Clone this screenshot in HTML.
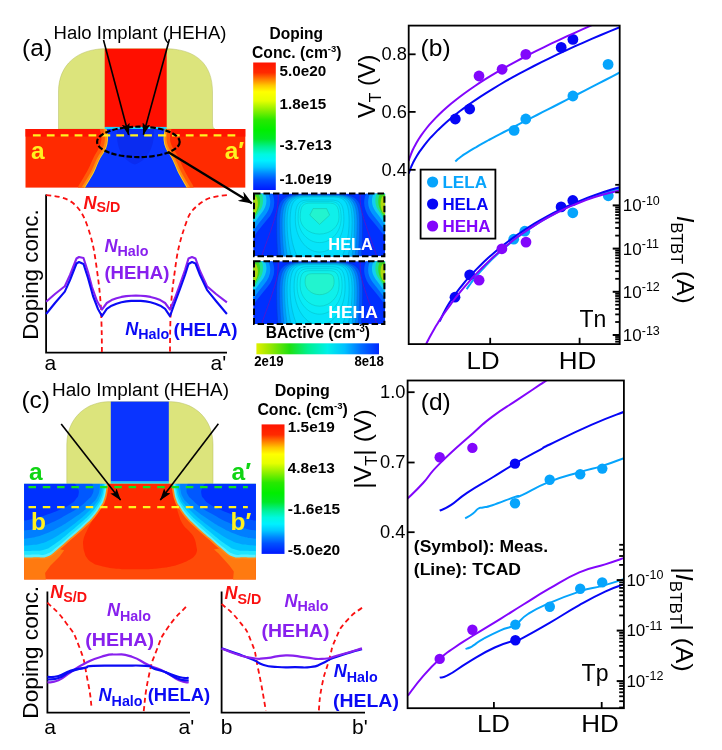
<!DOCTYPE html>
<html><head><meta charset="utf-8"><title>Figure</title>
<style>
html,body{margin:0;padding:0;background:#fff;}
svg{display:block;}
text{font-family:"Liberation Sans",sans-serif;}
.b{font-weight:bold;}
.bi{font-weight:bold;font-style:italic;}
</style></head><body>
<svg width="722" height="750" viewBox="0 0 722 750">
<defs>
<linearGradient id="jet" x1="0" y1="0" x2="0" y2="1">
<stop offset="0" stop-color="#ff1400"/>
<stop offset="0.08" stop-color="#ff2a00"/>
<stop offset="0.13" stop-color="#ff7a00"/>
<stop offset="0.18" stop-color="#ffc800"/>
<stop offset="0.23" stop-color="#ffff00"/>
<stop offset="0.30" stop-color="#e6ff00"/>
<stop offset="0.37" stop-color="#90f000"/>
<stop offset="0.45" stop-color="#28e800"/>
<stop offset="0.53" stop-color="#00ee00"/>
<stop offset="0.60" stop-color="#00e828"/>
<stop offset="0.66" stop-color="#00f090"/>
<stop offset="0.72" stop-color="#00f8e0"/>
<stop offset="0.77" stop-color="#00f0ff"/>
<stop offset="0.82" stop-color="#00c8ff"/>
<stop offset="0.87" stop-color="#0088ff"/>
<stop offset="0.92" stop-color="#0050ff"/>
<stop offset="1" stop-color="#0018ff"/>
</linearGradient>
<marker id="ah" viewBox="0 0 12 8" refX="11.6" refY="4" markerWidth="12" markerHeight="8" markerUnits="userSpaceOnUse" orient="auto"><path d="M0,0 L12,4 L0,8 L2.5,4 z" fill="#000"/></marker>
<marker id="ahb" viewBox="0 0 14 11" refX="13.4" refY="5.5" markerWidth="14" markerHeight="11" markerUnits="userSpaceOnUse" orient="auto"><path d="M0,0 L14,5.5 L0,11 L4.5,5.5 z" fill="#000"/></marker>
<linearGradient id="bact" x1="0" y1="0" x2="1" y2="0">
<stop offset="0" stop-color="#e0f000"/>
<stop offset="0.1" stop-color="#a0e800"/>
<stop offset="0.27" stop-color="#20e010"/>
<stop offset="0.42" stop-color="#00f090"/>
<stop offset="0.58" stop-color="#00f0e8"/>
<stop offset="0.72" stop-color="#00c0ff"/>
<stop offset="0.85" stop-color="#0070ff"/>
<stop offset="1" stop-color="#0028ff"/>
</linearGradient>
</defs>
<rect width="722" height="750" fill="#fff"/>

<!-- ===== PANEL A ===== -->
<g id="pa">
<!-- spacer -->
<path d="M58.5,129 L58.5,92 C58.5,64 78,49.5 104,48.7 L167,48.7 C196,49.5 212.5,64 212.5,92 L212.5,122 C212.5,127 213.5,129 215,129 Z" fill="#dce47c" stroke="#b4bc60" stroke-width="0.5"/>
<!-- gate -->
<rect x="104.7" y="48.7" width="62" height="78.5" fill="#ff0f00"/>
<!-- substrate -->
<rect x="25.5" y="129" width="219.8" height="58.6" fill="#ff2a00"/>
<rect x="25.5" y="129" width="219.8" height="7.6" fill="#ff1400"/>
<rect x="104.8" y="126.9" width="61.7" height="2.2" fill="#19d2ff"/>
<!-- channel -->
<clipPath id="ca"><rect x="25.5" y="129" width="219.8" height="58.6"/></clipPath>
<g clip-path="url(#ca)">
<path d="M106.2,128 C107.6,133 108.2,137 107.9,140 C107.6,146 105.5,150.5 102.7,154.6 C100,158.5 98,163 95.8,168.5 C93.5,174 91,178 84.5,188.5 L187.2,188.5 C181,178 178,173 176.3,168.5 C174,163 172,158.5 169.4,154.6 C166.5,150.5 164,146 163.6,140 C163.4,137 164,133 165,128 Z" fill="none" stroke="#ff5a08" stroke-width="13" stroke-linejoin="round"/>
<path d="M106.2,128 C107.6,133 108.2,137 107.9,140 C107.6,146 105.5,150.5 102.7,154.6 C100,158.5 98,163 95.8,168.5 C93.5,174 91,178 84.5,188.5 L187.2,188.5 C181,178 178,173 176.3,168.5 C174,163 172,158.5 169.4,154.6 C166.5,150.5 164,146 163.6,140 C163.4,137 164,133 165,128 Z" fill="none" stroke="#ff8c10" stroke-width="6" stroke-linejoin="round"/>
<path d="M106.2,128 C107.6,133 108.2,137 107.9,140 C107.6,146 105.5,150.5 102.7,154.6 C100,158.5 98,163 95.8,168.5 C93.5,174 91,178 84.5,188.5 L187.2,188.5 C181,178 178,173 176.3,168.5 C174,163 172,158.5 169.4,154.6 C166.5,150.5 164,146 163.6,140 C163.4,137 164,133 165,128 Z" fill="none" stroke="#ffd820" stroke-width="1.6" stroke-linejoin="round"/>
<path d="M106.2,128 C107.6,133 108.2,137 107.9,140 C107.6,146 105.5,150.5 102.7,154.6 C100,158.5 98,163 95.8,168.5 C93.5,174 91,178 84.5,188.5 L187.2,188.5 C181,178 178,173 176.3,168.5 C174,163 172,158.5 169.4,154.6 C166.5,150.5 164,146 163.6,140 C163.4,137 164,133 165,128 Z" fill="#0a35ff"/>
<path d="M117,129 L154,129 C154.5,140 152,150 146,157 C142,161.5 138,163.5 135,164.5 C131,163.5 127,161 123.5,156.5 C118,150 116.5,140 117,129 Z" fill="#0a2cf0"/>
</g>
<line x1="32.9" y1="135.4" x2="236" y2="135.4" stroke="#fff21f" stroke-width="2.2" stroke-dasharray="7.8,6.1"/>
<ellipse cx="138.4" cy="141.9" rx="41.3" ry="15.2" fill="none" stroke="#000" stroke-width="2.2" stroke-dasharray="5.4,2.2"/>
<text x="31" y="158.8" class="b" font-size="24.5" fill="#fff21f">a</text>
<text x="224.7" y="158.8" class="b" font-size="24.5" fill="#fff21f">a′</text>
<line x1="103.5" y1="40" x2="128.7" y2="135" stroke="#000" stroke-width="1.6" marker-end="url(#ah)"/>
<line x1="169.5" y1="39" x2="143.4" y2="134.7" stroke="#000" stroke-width="1.6" marker-end="url(#ah)"/>
<line x1="168.5" y1="152.2" x2="251.9" y2="203.2" stroke="#000" stroke-width="2.3" marker-end="url(#ahb)"/>
<text x="53.5" y="39.4" font-size="17.6" textLength="173" lengthAdjust="spacingAndGlyphs">Halo Implant (HEHA)</text>
<text x="22.1" y="56.3" font-size="24.5">(a)</text>
<!-- colorbar -->
<rect x="253.2" y="62.5" width="22.6" height="127.5" fill="url(#jet)"/>
<text x="269.5" y="39.4" class="b" font-size="15.8" textLength="53.5" lengthAdjust="spacingAndGlyphs">Doping</text>
<text x="252" y="57.9" class="b" font-size="15.8" textLength="89.5" lengthAdjust="spacingAndGlyphs">Conc. (cm<tspan font-size="9.5" dy="-6">-3</tspan><tspan dy="6">)</tspan></text>
<text x="279.6" y="75.6" class="b" font-size="15" textLength="46.6" lengthAdjust="spacingAndGlyphs">5.0e20</text>
<text x="279.6" y="109.2" class="b" font-size="15" textLength="46.6" lengthAdjust="spacingAndGlyphs">1.8e15</text>
<text x="279.6" y="149.5" class="b" font-size="15" textLength="52.3" lengthAdjust="spacingAndGlyphs">-3.7e13</text>
<text x="279.6" y="184.3" class="b" font-size="15" textLength="52.3" lengthAdjust="spacingAndGlyphs">-1.0e19</text>
</g>

<!-- ===== PANEL A PLOT ===== -->
<g id="pap">
<path d="M46.1,194.4 L46.1,352.7 L227,352.7" fill="none" stroke="#000" stroke-width="1.8"/>
<text transform="translate(37.8,339.8) rotate(-90)" font-size="21.7" textLength="130.5" lengthAdjust="spacingAndGlyphs">Doping conc.</text>
<text x="44.6" y="370.3" font-size="21">a</text>
<text x="210.5" y="370.3" font-size="21">a'</text>
<path d="M46.1,195.1 C58,196 66,198 72,202.3 C79,208 83,214 86.4,223.2 C91,236 93.5,246 95.4,259.2 C98,277 99.8,290 100.8,306 C101.5,320 101.9,335 101.9,352" fill="none" stroke="#fa1010" stroke-width="1.8" stroke-dasharray="5,3.5"/>
<path d="M226.9,195.1 C215,196 207,198 201.7,202.3 C194,208 190,212 187.3,219.6 C182,234 178.5,246 176.5,259.2 C174,277 172,290 171,306 C170.3,320 170,335 170,352" fill="none" stroke="#fa1010" stroke-width="1.8" stroke-dasharray="5,3.5"/>
<polyline points="46.1,301.7 55.0,294.0 64.8,286.2 70.0,275.0 76.5,258.5 79.0,257.0 83.5,258.0 88.0,272.0 92.0,287.0 97.0,301.0 101.9,309.6 106.8,303.0 111.6,300.1 116.5,298.2 121.4,296.9 126.2,296.1 131.1,295.7 135.9,295.6 140.8,295.7 145.7,296.1 150.5,296.9 155.4,298.2 160.3,300.1 165.1,303.0 170.0,309.6 175.0,298.0 180.0,284.4 185.0,270.0 188.5,258.5 192.0,257.0 195.5,258.5 200.0,271.0 207.0,286.2 216.0,294.0 226.9,302.4" fill="none" stroke="#8820ee" stroke-width="2.1" stroke-linejoin="round"/>
<polyline points="46.1,314.0 55.0,303.0 64.8,291.6 70.0,280.0 76.5,263.5 79.0,262.0 83.5,264.0 88.0,278.0 93.0,296.0 98.0,309.0 101.9,316.1 106.8,308.9 111.6,305.7 116.5,303.7 121.4,302.3 126.2,301.4 131.1,300.9 135.9,300.8 140.8,300.9 145.7,301.4 150.5,302.3 155.4,303.7 160.3,305.7 165.1,308.9 170.0,316.1 174.0,305.0 180.0,289.0 185.0,275.0 188.5,264.0 192.0,262.0 195.5,263.5 200.0,275.0 207.0,289.8 216.0,301.0 226.9,314.0" fill="none" stroke="#0a0af5" stroke-width="2.1" stroke-linejoin="round"/>
<text x="83.5" y="208.8" class="bi" font-size="18" fill="#fa1010">N<tspan class="b" font-style="normal" font-size="14.3" dy="3.3">S/D</tspan></text>
<text x="104.4" y="252" class="bi" font-size="18" fill="#8820ee">N<tspan class="b" font-style="normal" font-size="14.3" dy="4.3">Halo</tspan></text>
<text x="104.4" y="279" class="b" font-size="18" fill="#8820ee" textLength="65" lengthAdjust="spacingAndGlyphs">(HEHA)</text>
<text x="125.3" y="334.8" class="bi" font-size="18" fill="#0a0af5">N<tspan class="b" font-style="normal" font-size="14.3" dy="4.3">Halo</tspan></text>
<text x="173.6" y="335.5" class="b" font-size="18" fill="#0a0af5" textLength="64" lengthAdjust="spacingAndGlyphs">(HELA)</text>
</g>

<!--INSETS_START-->
<g id="insets">
<clipPath id="ic1"><rect x="253.2" y="193.6" width="132.0" height="62.70000000000002"/></clipPath>
<g clip-path="url(#ic1)">
<rect x="253.2" y="193.6" width="132.0" height="62.70000000000002" fill="#0030ff"/>
<path d="M276.6,223.6 C276.6,198.1 284.3,194.6 300.2,194.6 L339.0,194.6 C354.9,194.6 362.6,198.1 362.6,223.6 C362.6,300.6 343.2,363.6 319.6,363.6 C296.0,363.6 276.6,300.6 276.6,223.6Z" fill="#0053ff" stroke="#0041c7" stroke-width="0.5"/>
<path d="M279.6,223.6 C279.6,198.5 286.8,195.1 301.6,195.1 L337.6,195.1 C352.4,195.1 359.6,198.5 359.6,223.6 C359.6,289.6 341.6,343.6 319.6,343.6 C297.6,343.6 279.6,289.6 279.6,223.6Z" fill="#0079ff" stroke="#005ec7" stroke-width="0.5"/>
<path d="M282.1,223.6 C282.1,199.0 288.9,195.6 302.7,195.6 L336.5,195.6 C350.4,195.6 357.1,199.0 357.1,223.6 C357.1,278.6 340.2,323.6 319.6,323.6 C299.0,323.6 282.1,278.6 282.1,223.6Z" fill="#009dff" stroke="#007ac7" stroke-width="0.5"/>
<path d="M284.6,223.6 C284.6,199.4 290.9,196.1 303.9,196.1 L335.4,196.1 C348.3,196.1 354.6,199.4 354.6,223.6 C354.6,269.8 338.9,307.6 319.6,307.6 C300.4,307.6 284.6,269.8 284.6,223.6Z" fill="#00beff" stroke="#0094c7" stroke-width="0.5"/>
<path d="M287.1,222.6 C287.1,199.7 293.0,196.6 305.0,196.6 L334.2,196.6 C346.2,196.6 352.1,199.7 352.1,222.6 C352.1,260.6 337.5,291.6 319.6,291.6 C301.7,291.6 287.1,260.6 287.1,222.6Z" fill="#01d1ff" stroke="#01a3c7" stroke-width="0.5"/>
<path d="M290.1,221.6 C290.1,200.0 295.4,197.1 306.3,197.1 L332.9,197.1 C343.8,197.1 349.1,200.0 349.1,221.6 C349.1,251.3 335.8,275.6 319.6,275.6 C303.4,275.6 290.1,251.3 290.1,221.6Z" fill="#03defd" stroke="#02adc5" stroke-width="0.5"/>
<path d="M295.3,219.6 C295.3,202.4 299.7,200.1 308.7,200.1 L330.5,200.1 C339.5,200.1 343.9,202.4 343.9,219.6 C343.9,237.5 333.0,252.1 319.6,252.1 C306.2,252.1 295.3,237.5 295.3,219.6Z" fill="#06e5fa" stroke="#04b2c3" stroke-width="0.5"/>
<path d="M298.1,218.6 C298.1,203.6 302.0,201.6 309.9,201.6 L329.3,201.6 C337.2,201.6 341.1,203.6 341.1,218.6 C341.1,231.8 331.4,242.6 319.6,242.6 C307.8,242.6 298.1,231.8 298.1,218.6Z" fill="#08ecf6" stroke="#06b8c0" stroke-width="0.5"/>
<path d="M300.2,217.6 C300.2,204.8 303.7,203.1 310.9,203.1 L328.3,203.1 C335.5,203.1 339.0,204.8 339.0,217.6 C339.0,226.7 330.3,234.1 319.6,234.1 C308.9,234.1 300.2,226.7 300.2,217.6Z" fill="#0ff0ea" stroke="#0cbbb7" stroke-width="0.5"/>
<path d="M309.8,215.1 L313.1,208.6 L326.6,208.6 L329.6,215.1 L319.6,224.4Z" fill="#22f4cf" stroke="#18b8a0" stroke-width="0.5" stroke-linejoin="round"/>
<path d="M253.2,193.6 L272.2,193.6 C276.2,201.6 274.2,211.6 267.2,219.6 C262.2,225.6 257.2,231.6 253.2,237.6Z" fill="#0060ff"/>
<path d="M253.2,193.6 L268.2,193.6 C272.2,201.6 270.2,209.6 264.2,216.6 C260.2,221.6 256.2,226.6 253.2,231.6Z" fill="#0098ff"/>
<path d="M253.2,193.6 L264.7,193.6 C268.2,200.6 266.2,207.6 261.2,213.6 C258.2,217.6 255.2,221.6 253.2,225.6Z" fill="#10d0f0"/>
<path d="M253.2,193.6 L261.7,193.6 C264.2,199.6 263.2,206.6 259.2,211.6 C256.7,215.6 254.7,218.6 253.2,220.6Z" fill="#20e090"/>
<path d="M253.2,194.6 L258.7,194.6 C261.2,199.6 260.2,206.6 257.2,211.6 C255.7,214.6 254.2,216.6 253.2,217.6Z" fill="#40d820"/>
<path d="M253.2,196.6 L256.2,196.6 C258.7,201.6 258.2,207.6 255.7,212.6 L253.2,214.6Z" fill="#b0d810"/>
<path d="M278.2,193.6 C278.7,205.6 276.2,213.6 273.7,221.6 C269.2,235.6 265.2,245.6 261.7,256.3" fill="none" stroke="#6a10c0" stroke-width="0.7"/>
<path d="M385.2,193.6 L366.2,193.6 C362.2,201.6 364.2,211.6 371.2,219.6 C376.2,225.6 381.2,231.6 385.2,237.6Z" fill="#0060ff"/>
<path d="M385.2,193.6 L370.2,193.6 C366.2,201.6 368.2,209.6 374.2,216.6 C378.2,221.6 382.2,226.6 385.2,231.6Z" fill="#0098ff"/>
<path d="M385.2,193.6 L373.7,193.6 C370.2,200.6 372.2,207.6 377.2,213.6 C380.2,217.6 383.2,221.6 385.2,225.6Z" fill="#10d0f0"/>
<path d="M385.2,193.6 L376.7,193.6 C374.2,199.6 375.2,206.6 379.2,211.6 C381.7,215.6 383.7,218.6 385.2,220.6Z" fill="#20e090"/>
<path d="M385.2,194.6 L379.7,194.6 C377.2,199.6 378.2,206.6 381.2,211.6 C382.7,214.6 384.2,216.6 385.2,217.6Z" fill="#40d820"/>
<path d="M385.2,196.6 L382.2,196.6 C379.7,201.6 380.2,207.6 382.7,212.6 L385.2,214.6Z" fill="#b0d810"/>
<path d="M360.2,193.6 C359.7,205.6 362.2,213.6 364.7,221.6 C369.2,235.6 373.2,245.6 376.7,256.3" fill="none" stroke="#6a10c0" stroke-width="0.7"/>
</g>
<rect x="254.0" y="193.6" width="130.4" height="62.70000000000002" fill="none" stroke="#000" stroke-width="2" stroke-dasharray="6.5,3"/>
<text x="328.3" y="250.1" class="b" font-size="16.5" fill="#fff" textLength="44.6" lengthAdjust="spacingAndGlyphs">HELA</text>
<clipPath id="ic2"><rect x="253.2" y="261.2" width="132.0" height="62.80000000000001"/></clipPath>
<g clip-path="url(#ic2)">
<rect x="253.2" y="261.2" width="132.0" height="62.80000000000001" fill="#0030ff"/>
<path d="M276.6,291.2 C276.6,265.7 284.3,262.2 300.2,262.2 L339.0,262.2 C354.9,262.2 362.6,265.7 362.6,291.2 C362.6,368.2 343.2,431.2 319.6,431.2 C296.0,431.2 276.6,368.2 276.6,291.2Z" fill="#0053ff" stroke="#0041c7" stroke-width="0.5"/>
<path d="M279.6,291.2 C279.6,266.1 286.8,262.7 301.6,262.7 L337.6,262.7 C352.4,262.7 359.6,266.1 359.6,291.2 C359.6,357.2 341.6,411.2 319.6,411.2 C297.6,411.2 279.6,357.2 279.6,291.2Z" fill="#0079ff" stroke="#005ec7" stroke-width="0.5"/>
<path d="M282.1,291.2 C282.1,266.6 288.9,263.2 302.7,263.2 L336.5,263.2 C350.4,263.2 357.1,266.6 357.1,291.2 C357.1,347.3 340.2,393.2 319.6,393.2 C299.0,393.2 282.1,347.3 282.1,291.2Z" fill="#009dff" stroke="#007ac7" stroke-width="0.5"/>
<path d="M284.6,291.2 C284.6,267.0 290.9,263.7 303.9,263.7 L335.4,263.7 C348.3,263.7 354.6,267.0 354.6,291.2 C354.6,338.5 338.9,377.2 319.6,377.2 C300.4,377.2 284.6,338.5 284.6,291.2Z" fill="#00beff" stroke="#0094c7" stroke-width="0.5"/>
<path d="M287.1,290.2 C287.1,267.3 293.0,264.2 305.0,264.2 L334.2,264.2 C346.2,264.2 352.1,267.3 352.1,290.2 C352.1,329.2 337.5,361.2 319.6,361.2 C301.7,361.2 287.1,329.2 287.1,290.2Z" fill="#01d1ff" stroke="#01a3c7" stroke-width="0.5"/>
<path d="M290.1,289.2 C290.1,267.6 295.4,264.7 306.3,264.7 L332.9,264.7 C343.8,264.7 349.1,267.6 349.1,289.2 C349.1,320.0 335.8,345.2 319.6,345.2 C303.4,345.2 290.1,320.0 290.1,289.2Z" fill="#03defd" stroke="#02adc5" stroke-width="0.5"/>
<path d="M294.1,287.2 C294.1,269.2 298.7,266.7 308.1,266.7 L331.1,266.7 C340.5,266.7 345.1,269.2 345.1,287.2 C345.1,308.1 333.6,325.2 319.6,325.2 C305.6,325.2 294.1,308.1 294.1,287.2Z" fill="#06e5fa" stroke="#04b2c3" stroke-width="0.5"/>
<path d="M297.1,286.2 C297.1,270.8 301.2,268.7 309.5,268.7 L329.7,268.7 C338.1,268.7 342.1,270.8 342.1,286.2 C342.1,301.6 332.0,314.2 319.6,314.2 C307.2,314.2 297.1,301.6 297.1,286.2Z" fill="#08ecf6" stroke="#06b8c0" stroke-width="0.5"/>
<path d="M300.1,285.2 C300.1,272.4 303.6,270.7 310.8,270.7 L328.4,270.7 C335.6,270.7 339.1,272.4 339.1,285.2 C339.1,296.8 330.3,306.2 319.6,306.2 C308.9,306.2 300.1,296.8 300.1,285.2Z" fill="#0ff0ea" stroke="#0cbbb7" stroke-width="0.5"/>
<path d="M305.1,282.2 C305.1,274.7 307.7,273.7 313.1,273.7 L326.1,273.7 C331.5,273.7 334.1,274.7 334.1,282.2 C334.1,289.1 327.6,294.7 319.6,294.7 C311.6,294.7 305.1,289.1 305.1,282.2Z" fill="#22f4cf" stroke="#1bbea1" stroke-width="0.5"/>
<path d="M253.2,261.2 L272.2,261.2 C276.2,269.2 274.2,279.2 267.2,287.2 C262.2,293.2 257.2,299.2 253.2,305.2Z" fill="#0060ff"/>
<path d="M253.2,261.2 L268.2,261.2 C272.2,269.2 270.2,277.2 264.2,284.2 C260.2,289.2 256.2,294.2 253.2,299.2Z" fill="#0098ff"/>
<path d="M253.2,261.2 L264.7,261.2 C268.2,268.2 266.2,275.2 261.2,281.2 C258.2,285.2 255.2,289.2 253.2,293.2Z" fill="#10d0f0"/>
<path d="M253.2,261.2 L261.7,261.2 C264.2,267.2 263.2,274.2 259.2,279.2 C256.7,283.2 254.7,286.2 253.2,288.2Z" fill="#20e090"/>
<path d="M253.2,262.2 L258.7,262.2 C261.2,267.2 260.2,274.2 257.2,279.2 C255.7,282.2 254.2,284.2 253.2,285.2Z" fill="#40d820"/>
<path d="M253.2,264.2 L256.2,264.2 C258.7,269.2 258.2,275.2 255.7,280.2 L253.2,282.2Z" fill="#b0d810"/>
<path d="M278.2,261.2 C278.7,273.2 276.2,281.2 273.7,289.2 C269.2,303.2 265.2,313.2 261.7,324" fill="none" stroke="#6a10c0" stroke-width="0.7"/>
<path d="M385.2,261.2 L366.2,261.2 C362.2,269.2 364.2,279.2 371.2,287.2 C376.2,293.2 381.2,299.2 385.2,305.2Z" fill="#0060ff"/>
<path d="M385.2,261.2 L370.2,261.2 C366.2,269.2 368.2,277.2 374.2,284.2 C378.2,289.2 382.2,294.2 385.2,299.2Z" fill="#0098ff"/>
<path d="M385.2,261.2 L373.7,261.2 C370.2,268.2 372.2,275.2 377.2,281.2 C380.2,285.2 383.2,289.2 385.2,293.2Z" fill="#10d0f0"/>
<path d="M385.2,261.2 L376.7,261.2 C374.2,267.2 375.2,274.2 379.2,279.2 C381.7,283.2 383.7,286.2 385.2,288.2Z" fill="#20e090"/>
<path d="M385.2,262.2 L379.7,262.2 C377.2,267.2 378.2,274.2 381.2,279.2 C382.7,282.2 384.2,284.2 385.2,285.2Z" fill="#40d820"/>
<path d="M385.2,264.2 L382.2,264.2 C379.7,269.2 380.2,275.2 382.7,280.2 L385.2,282.2Z" fill="#b0d810"/>
<path d="M360.2,261.2 C359.7,273.2 362.2,281.2 364.7,289.2 C369.2,303.2 373.2,313.2 376.7,324" fill="none" stroke="#6a10c0" stroke-width="0.7"/>
</g>
<rect x="254.0" y="261.2" width="130.4" height="62.80000000000001" fill="none" stroke="#000" stroke-width="2" stroke-dasharray="6.5,3"/>
<text x="328.3" y="317.8" class="b" font-size="16.5" fill="#fff" textLength="49.5" lengthAdjust="spacingAndGlyphs">HEHA</text>
<text x="265.8" y="338.1" class="b" font-size="15.6">BActive (cm<tspan font-size="10" dy="-6">-3</tspan><tspan dy="6">)</tspan></text>
<rect x="256.4" y="343.3" width="122.6" height="11" fill="url(#bact)"/>
<text x="254.3" y="366.2" class="b" font-size="14.5" textLength="29.2" lengthAdjust="spacingAndGlyphs">2e19</text>
<text x="354.5" y="366.2" class="b" font-size="14.5" textLength="29.2" lengthAdjust="spacingAndGlyphs">8e18</text>
</g>
<!--INSETS_END-->
<!--PB_START-->
<g id="pb">
<clipPath id="cb"><rect x="408.7" y="25.6" width="211" height="318.5"/></clipPath>
<g clip-path="url(#cb)"><path d="M455.3,161.4 L456.4,160.4 L457.6,159.3 L459.0,158.2 L460.6,157.0 L462.3,155.7 L464.2,154.4 L466.3,153.1 L468.6,151.7 L471.0,150.2 L473.5,148.6 L476.3,147.1 L479.1,145.4 L482.2,143.7 L485.4,141.9 L488.8,140.0 L492.4,138.1 L496.1,136.1 L500.0,134.1 L504.0,132.0 L508.3,129.8 L512.6,127.5 L517.2,125.1 L521.9,122.7 L526.8,120.2 L531.8,117.6 L537.0,115.0 L542.4,112.2 L548.0,109.4 L553.7,106.5 L559.5,103.5 L565.6,100.4 L571.8,97.2 L578.1,94.0 L584.7,90.6 L591.4,87.2 L598.2,83.6 L605.3,80.0 L612.4,76.3 L619.8,72.5" fill="none" stroke="#06a4fc" stroke-width="2" stroke-linejoin="round"/><path d="M466.7,289.2 L467.7,287.6 L468.9,285.9 L470.3,284.0 L471.7,282.0 L473.4,279.9 L475.2,277.7 L477.1,275.3 L479.2,272.9 L481.5,270.3 L483.9,267.7 L486.4,265.0 L489.1,262.2 L492.0,259.4 L495.0,256.5 L498.2,253.6 L501.5,250.6 L504.9,247.6 L508.6,244.5 L512.3,241.5 L516.2,238.4 L520.3,235.3 L524.5,232.3 L528.9,229.2 L533.5,226.2 L538.1,223.2 L543.0,220.2 L548.0,217.3 L553.1,214.5 L558.4,211.7 L563.8,208.9 L569.4,206.2 L575.2,203.7 L581.1,201.2 L587.1,198.8 L593.4,196.5 L599.7,194.3 L606.2,192.2 L612.9,190.3 L619.7,188.5" fill="none" stroke="#06a4fc" stroke-width="2" stroke-linejoin="round"/></g>
<circle cx="514.1" cy="130.4" r="5.4" fill="#06a4fc"/><circle cx="525.8" cy="119" r="5.4" fill="#06a4fc"/><circle cx="572.9" cy="96" r="5.4" fill="#06a4fc"/><circle cx="608.1" cy="64.4" r="5.4" fill="#06a4fc"/><circle cx="513.7" cy="239.2" r="5.4" fill="#06a4fc"/><circle cx="524.8" cy="231.2" r="5.4" fill="#06a4fc"/><circle cx="572.8" cy="212.8" r="5.4" fill="#06a4fc"/><circle cx="608.3" cy="195.8" r="5.4" fill="#06a4fc"/>
<g clip-path="url(#cb)"><path d="M408.6,173.7 L409.9,170.1 L411.3,166.5 L413.0,162.8 L414.9,159.2 L417.1,155.6 L419.4,151.9 L422.0,148.3 L424.8,144.6 L427.8,140.9 L431.0,137.2 L434.5,133.6 L438.1,129.9 L442.0,126.2 L446.1,122.5 L450.4,118.8 L455.0,115.0 L459.7,111.3 L464.7,107.6 L469.9,103.8 L475.3,100.1 L480.9,96.3 L486.8,92.6 L492.9,88.8 L499.2,85.0 L505.7,81.2 L512.4,77.4 L519.3,73.6 L526.5,69.8 L533.9,66.0 L541.5,62.1 L549.3,58.3 L557.4,54.4 L565.6,50.6 L574.1,46.7 L582.8,42.8 L591.7,38.9 L600.9,35.0 L610.2,31.1 L619.8,27.2" fill="none" stroke="#0606f6" stroke-width="2" stroke-linejoin="round"/><path d="M439.8,321.5 L440.9,318.7 L442.3,315.8 L443.8,312.7 L445.5,309.6 L447.3,306.3 L449.4,302.9 L451.6,299.5 L454.0,296.0 L456.6,292.4 L459.4,288.7 L462.4,285.0 L465.5,281.2 L468.9,277.4 L472.4,273.5 L476.1,269.6 L480.0,265.7 L484.0,261.8 L488.3,257.8 L492.7,253.9 L497.3,250.0 L502.1,246.1 L507.1,242.2 L512.3,238.4 L517.6,234.5 L523.1,230.8 L528.8,227.1 L534.7,223.4 L540.8,219.8 L547.1,216.3 L553.5,212.9 L560.1,209.6 L566.9,206.4 L573.9,203.3 L581.1,200.3 L588.4,197.4 L596.0,194.6 L603.7,192.0 L611.6,189.5 L619.7,187.2" fill="none" stroke="#0606f6" stroke-width="2" stroke-linejoin="round"/></g>
<circle cx="455.3" cy="119" r="5.4" fill="#0606f6"/><circle cx="469.7" cy="109" r="5.4" fill="#0606f6"/><circle cx="561.2" cy="47.4" r="5.4" fill="#0606f6"/><circle cx="572.9" cy="39.4" r="5.4" fill="#0606f6"/><circle cx="455" cy="297.2" r="5.4" fill="#0606f6"/><circle cx="469.7" cy="274.9" r="5.4" fill="#0606f6"/><circle cx="561.1" cy="206.9" r="5.4" fill="#0606f6"/><circle cx="572.8" cy="200.5" r="5.4" fill="#0606f6"/>
<g clip-path="url(#cb)"><path d="M408.6,161.0 L409.8,157.3 L411.2,153.7 L412.7,150.0 L414.5,146.4 L416.5,142.8 L418.6,139.2 L421.0,135.6 L423.6,132.0 L426.3,128.5 L429.2,124.9 L432.4,121.4 L435.7,117.9 L439.3,114.3 L443.0,110.8 L446.9,107.3 L451.0,103.8 L455.4,100.3 L459.9,96.8 L464.6,93.3 L469.5,89.7 L474.6,86.2 L479.9,82.7 L485.4,79.2 L491.1,75.7 L497.0,72.2 L503.1,68.6 L509.3,65.1 L515.8,61.6 L522.5,58.0 L529.4,54.4 L536.4,50.9 L543.7,47.3 L551.1,43.7 L558.8,40.1 L566.6,36.4 L574.7,32.8 L582.9,29.1 L591.4,25.4 L600.0,21.7" fill="none" stroke="#8206fc" stroke-width="2" stroke-linejoin="round"/><path d="M425.7,345.0 L426.9,342.5 L428.3,339.7 L429.9,336.7 L431.7,333.4 L433.7,330.0 L435.8,326.3 L438.2,322.4 L440.8,318.4 L443.6,314.3 L446.6,310.0 L449.8,305.6 L453.1,301.0 L456.7,296.4 L460.5,291.7 L464.5,286.9 L468.7,282.1 L473.0,277.2 L477.6,272.4 L482.4,267.5 L487.4,262.6 L492.5,257.7 L497.9,252.9 L503.5,248.1 L509.3,243.4 L515.2,238.8 L521.4,234.3 L527.8,229.9 L534.3,225.6 L541.1,221.4 L548.1,217.4 L555.2,213.5 L562.6,209.9 L570.1,206.4 L577.9,203.2 L585.9,200.1 L594.0,197.3 L602.4,194.8 L610.9,192.5 L619.7,190.5" fill="none" stroke="#8206fc" stroke-width="2" stroke-linejoin="round"/></g>
<circle cx="479" cy="76" r="5.4" fill="#8206fc"/><circle cx="502.1" cy="69.3" r="5.4" fill="#8206fc"/><circle cx="525.8" cy="54.4" r="5.4" fill="#8206fc"/><circle cx="479.1" cy="280.2" r="5.4" fill="#8206fc"/><circle cx="501.9" cy="248.8" r="5.4" fill="#8206fc"/><circle cx="526" cy="242.1" r="5.4" fill="#8206fc"/>
<rect x="408.7" y="25.6" width="211" height="318.5" fill="none" stroke="#000" stroke-width="1.8"/>
<line x1="408.7" y1="54.3" x2="415.6" y2="54.3" stroke="#000" stroke-width="1.8"/>
<text x="381.5" y="60.0" font-size="19.2" textLength="25.4" lengthAdjust="spacingAndGlyphs">0.8</text>
<line x1="408.7" y1="111.9" x2="415.6" y2="111.9" stroke="#000" stroke-width="1.8"/>
<text x="381.5" y="117.6" font-size="19.2" textLength="25.4" lengthAdjust="spacingAndGlyphs">0.6</text>
<line x1="408.7" y1="169.8" x2="415.6" y2="169.8" stroke="#000" stroke-width="1.8"/>
<text x="381.5" y="175.5" font-size="19.2" textLength="25.4" lengthAdjust="spacingAndGlyphs">0.4</text>
<line x1="490.2" y1="344.1" x2="490.2" y2="337.8" stroke="#000" stroke-width="1.8"/>
<line x1="579.6" y1="344.1" x2="579.6" y2="337.8" stroke="#000" stroke-width="1.8"/>
<text x="466.6" y="368.6" font-size="24" textLength="33" lengthAdjust="spacingAndGlyphs">LD</text>
<text x="558.8" y="368.6" font-size="24" textLength="37.6" lengthAdjust="spacingAndGlyphs">HD</text>
<line x1="619.7" y1="205.4" x2="612.7" y2="205.4" stroke="#000" stroke-width="2"/><line x1="619.7" y1="192.4" x2="615.2" y2="192.4" stroke="#000" stroke-width="1.8"/><line x1="619.7" y1="184.8" x2="615.2" y2="184.8" stroke="#000" stroke-width="1.8"/><line x1="619.7" y1="248.6" x2="612.7" y2="248.6" stroke="#000" stroke-width="2"/><line x1="619.7" y1="235.6" x2="615.2" y2="235.6" stroke="#000" stroke-width="1.8"/><line x1="619.7" y1="228.0" x2="615.2" y2="228.0" stroke="#000" stroke-width="1.8"/><line x1="619.7" y1="222.6" x2="615.2" y2="222.6" stroke="#000" stroke-width="1.8"/><line x1="619.7" y1="218.4" x2="615.2" y2="218.4" stroke="#000" stroke-width="1.8"/><line x1="619.7" y1="215.0" x2="615.2" y2="215.0" stroke="#000" stroke-width="1.8"/><line x1="619.7" y1="212.1" x2="615.2" y2="212.1" stroke="#000" stroke-width="1.8"/><line x1="619.7" y1="209.6" x2="615.2" y2="209.6" stroke="#000" stroke-width="1.8"/><line x1="619.7" y1="207.4" x2="615.2" y2="207.4" stroke="#000" stroke-width="1.8"/><line x1="619.7" y1="291.8" x2="612.7" y2="291.8" stroke="#000" stroke-width="2"/><line x1="619.7" y1="278.8" x2="615.2" y2="278.8" stroke="#000" stroke-width="1.8"/><line x1="619.7" y1="271.2" x2="615.2" y2="271.2" stroke="#000" stroke-width="1.8"/><line x1="619.7" y1="265.8" x2="615.2" y2="265.8" stroke="#000" stroke-width="1.8"/><line x1="619.7" y1="261.6" x2="615.2" y2="261.6" stroke="#000" stroke-width="1.8"/><line x1="619.7" y1="258.2" x2="615.2" y2="258.2" stroke="#000" stroke-width="1.8"/><line x1="619.7" y1="255.3" x2="615.2" y2="255.3" stroke="#000" stroke-width="1.8"/><line x1="619.7" y1="252.8" x2="615.2" y2="252.8" stroke="#000" stroke-width="1.8"/><line x1="619.7" y1="250.6" x2="615.2" y2="250.6" stroke="#000" stroke-width="1.8"/><line x1="619.7" y1="335.0" x2="612.7" y2="335.0" stroke="#000" stroke-width="2"/><line x1="619.7" y1="322.0" x2="615.2" y2="322.0" stroke="#000" stroke-width="1.8"/><line x1="619.7" y1="314.4" x2="615.2" y2="314.4" stroke="#000" stroke-width="1.8"/><line x1="619.7" y1="309.0" x2="615.2" y2="309.0" stroke="#000" stroke-width="1.8"/><line x1="619.7" y1="304.8" x2="615.2" y2="304.8" stroke="#000" stroke-width="1.8"/><line x1="619.7" y1="301.4" x2="615.2" y2="301.4" stroke="#000" stroke-width="1.8"/><line x1="619.7" y1="298.5" x2="615.2" y2="298.5" stroke="#000" stroke-width="1.8"/><line x1="619.7" y1="296.0" x2="615.2" y2="296.0" stroke="#000" stroke-width="1.8"/><line x1="619.7" y1="293.8" x2="615.2" y2="293.8" stroke="#000" stroke-width="1.8"/><line x1="619.7" y1="341.7" x2="615.2" y2="341.7" stroke="#000" stroke-width="1.8"/><line x1="619.7" y1="339.2" x2="615.2" y2="339.2" stroke="#000" stroke-width="1.8"/><line x1="619.7" y1="337.0" x2="615.2" y2="337.0" stroke="#000" stroke-width="1.8"/>
<text x="622.8" y="211.4" font-size="17">10<tspan font-size="12.5" dy="-6.5">-10</tspan></text>
<text x="622.8" y="254.6" font-size="17">10<tspan font-size="12.5" dy="-6.5">-11</tspan></text>
<text x="622.8" y="297.8" font-size="17">10<tspan font-size="12.5" dy="-6.5">-12</tspan></text>
<text x="622.8" y="341.0" font-size="17">10<tspan font-size="12.5" dy="-6.5">-13</tspan></text>
<text x="420.6" y="56.3" font-size="24.5">(b)</text>
<text x="579.5" y="327.4" font-size="23">Tn</text>
<text transform="translate(374.9,118) rotate(-90)" font-size="24" textLength="63.5" lengthAdjust="spacingAndGlyphs"><tspan>V</tspan><tspan font-size="16" dy="6">T</tspan><tspan dy="-6"> (V)</tspan></text>
<text transform="translate(676.5,215.7) rotate(90)" font-size="24" textLength="88" lengthAdjust="spacingAndGlyphs"><tspan font-style="italic">I</tspan><tspan font-size="16" dy="6">BTBT</tspan><tspan dy="-6"> (A)</tspan></text>
<rect x="420.6" y="169.6" width="74.8" height="69" fill="#fff" stroke="#000" stroke-width="1.8"/>
<circle cx="432.6" cy="182" r="5.6" fill="#06a4fc"/>
<text x="442.4" y="187.9" class="b" font-size="16.5" fill="#06a4fc" textLength="44.6" lengthAdjust="spacingAndGlyphs">LELA</text>
<circle cx="432.6" cy="204" r="5.6" fill="#0606f6"/>
<text x="442.4" y="209.9" class="b" font-size="16.5" fill="#0606f6" textLength="46" lengthAdjust="spacingAndGlyphs">HELA</text>
<circle cx="432.6" cy="226" r="5.6" fill="#8206fc"/>
<text x="442.4" y="231.9" class="b" font-size="16.5" fill="#8206fc" textLength="48.2" lengthAdjust="spacingAndGlyphs">HEHA</text>
</g>
<!--PB_END-->
<!--PC_START-->
<g id="pc">
<path d="M66.8,483.6 L66.8,445 C66.8,420 84,402.5 108,401.7 L171,401.7 C196,402.5 213,420 213,445 L213,483.6 Z" fill="#dce47c" stroke="#b4bc60" stroke-width="0.5"/>
<rect x="110.8" y="401.6" width="58" height="80" fill="#0a34ff"/>
<rect x="110.8" y="481.4" width="58" height="2.2" fill="#19d2ff"/>
<clipPath id="cc"><rect x="24.1" y="483.7" width="231.8" height="95.9"/></clipPath>
<g clip-path="url(#cc)">
<rect x="24" y="483.6" width="232.4" height="96.5" fill="#ff4a08"/>
<path d="M24.1,557.6 L47.4,556.4 L58.1,548.7 L64.2,550.3 L59.6,556.4 L50.5,565.5 L45.1,573.1 L45.9,580.0 L24.1,580.0Z" fill="#ff7a10"/>
<path d="M255.9,557.7 L233.0,556.2 L218.6,548.6 L214.0,549.5 L218.6,553.5 L229.2,565.3 L233.8,571.4 L233.0,580.0 L255.9,580.0Z" fill="#ff7a10"/>
<path d="M106.8,483.7 C106.6,485.6 106.5,488.2 105.8,492.0 C105.1,495.8 105.3,496.0 103.8,500.0 C102.3,504.0 102.0,504.2 99.2,509.1 C96.4,514.0 94.8,516.0 92.0,521.0 C89.2,526.0 89.0,526.3 87.0,530.5 C85.0,534.7 84.5,535.5 83.6,539.0 C82.7,542.5 83.0,542.6 83.2,545.7 C83.4,548.9 83.6,549.7 84.5,552.5 C85.4,555.3 85.2,555.6 87.0,557.9 C88.8,560.2 89.2,560.7 92.0,562.5 C94.8,564.3 94.0,564.1 99.2,565.5 C104.5,566.9 107.3,567.7 114.5,568.6 C121.7,569.5 122.9,569.2 130.0,569.3 C137.1,569.4 138.6,569.4 145.0,569.2 C151.4,569.0 151.8,569.0 157.6,568.4 C163.4,567.8 164.7,567.9 170.0,566.8 C175.3,565.7 176.1,565.4 180.5,563.8 C184.9,562.2 185.8,561.8 189.0,560.0 C192.2,558.2 192.4,558.2 194.2,556.2 C196.0,554.2 196.3,553.6 196.8,551.5 C197.3,549.4 197.1,550.2 196.5,547.0 C195.9,543.8 195.9,541.6 194.2,537.9 C192.4,534.2 191.7,534.2 189.0,531.0 C186.3,527.8 185.2,528.2 182.8,524.2 C180.4,520.2 180.1,518.9 178.5,514.0 C176.9,509.1 176.9,507.4 176.0,503.0 C175.1,498.6 175.4,499.5 174.8,495.0 C174.2,490.5 173.9,486.3 173.6,483.7Z" fill="#ff2a00"/>
<rect x="106.8" y="483.7" width="66.8" height="4" fill="#ff2a00"/>
<path d="M106.8,483.7 C106.5,485.9 106.6,487.7 105.8,492.0 C105.0,496.3 105.2,496.2 103.8,500.0 C102.4,503.8 103.6,501.6 100.7,506.1 C97.8,510.6 97.6,511.5 93.1,516.8 C88.6,522.1 90.1,520.2 84.0,525.9 C77.9,531.6 77.2,532.0 70.3,538.1 C63.4,544.2 64.2,543.8 58.1,548.7 C52.0,553.6 53.3,554.1 47.4,556.4 C41.5,558.7 42.2,556.9 36.0,557.2 C29.8,557.5 27.3,557.5 24.1,557.6" fill="none" stroke="#ff8a14" stroke-width="3.4"/>
<path d="M173.2,483.7 C173.5,485.9 173.4,487.7 174.2,492.0 C175.0,496.3 174.8,496.2 176.2,500.0 C177.6,503.8 176.4,501.6 179.3,506.1 C182.2,510.6 182.4,511.5 186.9,516.8 C191.4,522.1 189.9,520.2 196.0,525.9 C202.1,531.6 202.8,532.0 209.7,538.1 C216.6,544.2 215.8,543.8 221.9,548.7 C228.0,553.6 226.7,554.1 232.6,556.4 C238.5,558.7 237.8,556.9 244.0,557.2 C250.2,557.5 252.7,557.5 255.9,557.6" fill="none" stroke="#ff8a14" stroke-width="3.4"/>
<path d="M106.8,483.7 C106.5,485.9 106.6,487.7 105.8,492.0 C105.0,496.3 105.2,496.2 103.8,500.0 C102.4,503.8 103.6,501.6 100.7,506.1 C97.8,510.6 97.6,511.5 93.1,516.8 C88.6,522.1 90.1,520.2 84.0,525.9 C77.9,531.6 77.2,532.0 70.3,538.1 C63.4,544.2 64.2,543.8 58.1,548.7 C52.0,553.6 53.3,554.1 47.4,556.4 C41.5,558.7 42.2,556.9 36.0,557.2 C29.8,557.5 27.3,557.5 24.1,557.6 L24.1,483.7 Z" fill="#58f0ff"/>
<path d="M173.2,483.7 C173.5,485.9 173.4,487.7 174.2,492.0 C175.0,496.3 174.8,496.2 176.2,500.0 C177.6,503.8 176.4,501.6 179.3,506.1 C182.2,510.6 182.4,511.5 186.9,516.8 C191.4,522.1 189.9,520.2 196.0,525.9 C202.1,531.6 202.8,532.0 209.7,538.1 C216.6,544.2 215.8,543.8 221.9,548.7 C228.0,553.6 226.7,554.1 232.6,556.4 C238.5,558.7 237.8,556.9 244.0,557.2 C250.2,557.5 252.7,557.5 255.9,557.6 L255.9,483.7 Z" fill="#58f0ff"/>
<path d="M105.3,483.7 C105.0,485.9 105.1,487.8 104.3,492.0 C103.5,496.2 103.7,496.0 102.3,499.5 C100.9,503.0 102.0,501.0 99.2,505.3 C96.4,509.6 96.2,510.5 91.8,515.6 C87.4,520.7 88.8,519.0 82.8,524.6 C76.8,530.2 76.1,530.6 69.2,536.6 C62.3,542.6 63.1,542.4 57.0,547.0 C50.9,551.6 52.1,552.0 46.5,554.0 C40.9,556.0 42.0,554.3 36.0,554.5 C30.0,554.7 27.3,554.7 24.1,554.8 L24.1,483.7 Z" fill="#1ee4ff"/>
<path d="M174.7,483.7 C175.0,485.9 174.9,487.8 175.7,492.0 C176.5,496.2 176.3,496.0 177.7,499.5 C179.1,503.0 178.0,501.0 180.8,505.3 C183.6,509.6 183.8,510.5 188.2,515.6 C192.6,520.7 191.2,519.0 197.2,524.6 C203.2,530.2 203.9,530.6 210.8,536.6 C217.7,542.6 216.9,542.4 223.0,547.0 C229.1,551.6 227.9,552.0 233.5,554.0 C239.1,556.0 238.0,554.3 244.0,554.5 C250.0,554.7 252.7,554.7 255.9,554.8 L255.9,483.7 Z" fill="#1ee4ff"/>
<path d="M104.0,483.7 C103.7,485.9 103.9,487.9 103.0,492.0 C102.1,496.1 102.3,495.5 100.8,499.0 C99.3,502.5 100.2,500.9 97.3,505.0 C94.4,509.1 94.3,509.6 89.8,514.4 C85.3,519.2 86.6,517.6 80.5,523.0 C74.4,528.4 73.9,528.8 67.0,534.5 C60.1,540.2 60.6,540.1 54.5,544.2 C48.4,548.3 49.5,548.1 44.0,549.8 C38.5,551.5 39.3,550.4 34.0,550.7 C28.7,551.0 26.7,550.9 24.1,551.0 L24.1,483.7 Z" fill="#00c4ff"/>
<path d="M176.0,483.7 C176.3,485.9 176.1,487.9 177.0,492.0 C177.9,496.1 177.7,495.5 179.2,499.0 C180.7,502.5 179.8,500.9 182.7,505.0 C185.6,509.1 185.7,509.6 190.2,514.4 C194.7,519.2 193.4,517.6 199.5,523.0 C205.6,528.4 206.1,528.8 213.0,534.5 C219.9,540.2 219.4,540.1 225.5,544.2 C231.6,548.3 230.5,548.1 236.0,549.8 C241.5,551.5 240.7,550.4 246.0,550.7 C251.3,551.0 253.3,550.9 255.9,551.0 L255.9,483.7 Z" fill="#00c4ff"/>
<path d="M102.5,483.7 C102.2,485.6 102.4,487.1 101.5,491.0 C100.6,494.9 100.7,494.9 99.0,498.5 C97.3,502.1 98.2,500.6 95.0,504.5 C91.8,508.4 91.7,508.5 87.0,513.0 C82.3,517.5 83.6,516.4 77.5,521.3 C71.4,526.2 71.1,526.6 64.0,531.5 C56.9,536.4 57.4,536.2 51.0,539.5 C44.6,542.8 45.1,542.3 40.0,543.8 C34.9,545.3 36.2,544.5 32.0,545.0 C27.8,545.5 26.2,545.5 24.1,545.7 L24.1,483.7 Z" fill="#00a2ff"/>
<path d="M177.5,483.7 C177.8,485.6 177.6,487.1 178.5,491.0 C179.4,494.9 179.3,494.9 181.0,498.5 C182.7,502.1 181.8,500.6 185.0,504.5 C188.2,508.4 188.3,508.5 193.0,513.0 C197.7,517.5 196.4,516.4 202.5,521.3 C208.6,526.2 208.9,526.6 216.0,531.5 C223.1,536.4 222.6,536.2 229.0,539.5 C235.4,542.8 234.9,542.3 240.0,543.8 C245.1,545.3 243.8,544.5 248.0,545.0 C252.2,545.5 253.8,545.5 255.9,545.7 L255.9,483.7 Z" fill="#00a2ff"/>
<path d="M99.8,483.7 C99.7,485.4 100.2,486.3 99.5,490.0 C98.8,493.7 99.0,493.9 97.0,497.5 C95.0,501.1 95.6,499.9 92.0,503.5 C88.4,507.1 88.6,507.0 83.5,511.0 C78.4,515.0 79.4,514.2 73.0,518.5 C66.6,522.8 66.7,523.0 59.5,527.0 C52.3,531.0 52.3,530.9 46.0,533.5 C39.7,536.1 40.3,535.6 36.0,536.8 C31.7,538.0 33.2,537.5 30.0,538.0 C26.8,538.5 25.7,538.6 24.1,538.8 L24.1,483.7 Z" fill="#007eff"/>
<path d="M180.2,483.7 C180.3,485.4 179.8,486.3 180.5,490.0 C181.2,493.7 181.0,493.9 183.0,497.5 C185.0,501.1 184.4,499.9 188.0,503.5 C191.6,507.1 191.4,507.0 196.5,511.0 C201.6,515.0 200.6,514.2 207.0,518.5 C213.4,522.8 213.3,523.0 220.5,527.0 C227.7,531.0 227.7,530.9 234.0,533.5 C240.3,536.1 239.7,535.6 244.0,536.8 C248.3,538.0 246.8,537.5 250.0,538.0 C253.2,538.5 254.3,538.6 255.9,538.8 L255.9,483.7 Z" fill="#007eff"/>
<path d="M92.3,483.7 C92.6,485.1 93.6,486.0 93.5,489.0 C93.4,492.0 93.7,491.9 92.0,495.0 C90.3,498.1 90.7,497.0 87.0,500.5 C83.3,504.0 83.3,504.3 78.0,508.0 C72.7,511.7 73.7,510.8 67.0,514.5 C60.3,518.2 60.2,518.7 53.0,522.0 C45.8,525.3 45.6,525.1 40.0,527.0 C34.4,528.9 35.2,528.4 32.0,529.2 C28.8,530.0 30.1,529.7 28.0,530.0 C25.9,530.3 25.1,530.4 24.1,530.5 L24.1,483.7 Z" fill="#0058ff"/>
<path d="M187.7,483.7 C187.4,485.1 186.4,486.0 186.5,489.0 C186.6,492.0 186.3,491.9 188.0,495.0 C189.7,498.1 189.3,497.0 193.0,500.5 C196.7,504.0 196.7,504.3 202.0,508.0 C207.3,511.7 206.3,510.8 213.0,514.5 C219.7,518.2 219.8,518.7 227.0,522.0 C234.2,525.3 234.4,525.1 240.0,527.0 C245.6,528.9 244.8,528.4 248.0,529.2 C251.2,530.0 249.9,529.7 252.0,530.0 C254.1,530.3 254.9,530.4 255.9,530.5 L255.9,483.7 Z" fill="#0058ff"/>
<path d="M75.0,483.7 C75.8,485.0 77.0,485.8 78.0,488.5 C79.0,491.2 79.1,491.2 78.6,494.0 C78.1,496.8 78.3,496.2 76.0,499.0 C73.7,501.8 74.4,501.6 69.9,504.5 C65.4,507.4 65.4,507.2 59.0,510.0 C52.6,512.8 52.1,512.9 46.0,515.0 C39.9,517.1 40.3,516.8 36.0,518.0 C31.7,519.2 32.4,518.9 30.0,519.5 C27.6,520.1 28.6,519.9 27.0,520.2 C25.4,520.5 24.9,520.5 24.1,520.6 L24.1,483.7 Z" fill="#0030ff"/>
<path d="M205.0,483.7 C204.2,485.0 203.0,485.8 202.0,488.5 C201.0,491.2 200.9,491.2 201.4,494.0 C201.9,496.8 201.7,496.2 204.0,499.0 C206.3,501.8 205.6,501.6 210.1,504.5 C214.6,507.4 214.6,507.2 221.0,510.0 C227.4,512.8 227.9,512.9 234.0,515.0 C240.1,517.1 239.7,516.8 244.0,518.0 C248.3,519.2 247.6,518.9 250.0,519.5 C252.4,520.1 251.4,519.9 253.0,520.2 C254.6,520.5 255.1,520.5 255.9,520.6 L255.9,483.7 Z" fill="#0030ff"/>
</g>
<line x1="28.5" y1="487.1" x2="247.8" y2="487.1" stroke="#14e01e" stroke-width="2.4" stroke-dasharray="7.5,6.8"/>
<line x1="28.5" y1="507.1" x2="247.8" y2="507.1" stroke="#fff21f" stroke-width="2.4" stroke-dasharray="7.5,6.8"/>
<text x="29" y="480" class="b" font-size="24.5" fill="#10d414">a</text>
<text x="231.5" y="480" class="b" font-size="24.5" fill="#10d414">a′</text>
<text x="31" y="530.4" class="b" font-size="24.5" fill="#fff21f">b</text>
<text x="230.5" y="530.4" class="b" font-size="24.5" fill="#fff21f">b′</text>
<line x1="61.2" y1="424" x2="120.6" y2="500.1" stroke="#000" stroke-width="1.6" marker-end="url(#ah)"/>
<line x1="218.4" y1="423.8" x2="160.3" y2="500.1" stroke="#000" stroke-width="1.6" marker-end="url(#ah)"/>
<text x="52" y="396.3" font-size="17.6" textLength="177" lengthAdjust="spacingAndGlyphs">Halo Implant (HEHA)</text>
<text x="21.4" y="408.3" font-size="24.5">(c)</text>
<rect x="261.6" y="424.4" width="22.9" height="129.5" fill="url(#jet)"/>
<text x="274.7" y="396.3" class="b" font-size="15.8" textLength="55" lengthAdjust="spacingAndGlyphs">Doping</text>
<text x="257.4" y="415.2" class="b" font-size="15.8" textLength="90.5" lengthAdjust="spacingAndGlyphs">Conc. (cm<tspan font-size="9.5" dy="-6">-3</tspan><tspan dy="6">)</tspan></text>
<text x="287.8" y="432.3" class="b" font-size="15" textLength="47" lengthAdjust="spacingAndGlyphs">1.5e19</text>
<text x="287.8" y="473.1" class="b" font-size="15" textLength="47" lengthAdjust="spacingAndGlyphs">4.8e13</text>
<text x="287.8" y="513.6" class="b" font-size="15" textLength="52.4" lengthAdjust="spacingAndGlyphs">-1.6e15</text>
<text x="287.8" y="555.4" class="b" font-size="15" textLength="52.4" lengthAdjust="spacingAndGlyphs">-5.0e20</text>
</g>
<g id="pcp">
<path d="M47.4,591.6 L47.4,712.7 L190,712.7" fill="none" stroke="#000" stroke-width="1.8"/>
<path d="M221.6,591.6 L221.6,712.7 L365,712.7" fill="none" stroke="#000" stroke-width="1.8"/>
<text transform="translate(37.8,718.8) rotate(-90)" font-size="21.7" textLength="133" lengthAdjust="spacingAndGlyphs">Doping conc.</text>
<text x="44.2" y="734.2" font-size="21">a</text><text x="178.6" y="734.2" font-size="21">a'</text>
<text x="220.8" y="734.2" font-size="21">b</text><text x="352" y="734.2" font-size="21">b'</text>
<path d="M47.4,602.7 C52.8,608.5 55.8,608.7 65.4,622.0 C75.0,635.3 72.6,629.5 79.3,647.0 C86.0,664.5 83.9,662.0 87.6,680.3 C91.3,698.6 90.5,699.7 91.7,708.0" fill="none" stroke="#fa1010" stroke-width="1.8" stroke-dasharray="5,3.5"/>
<path d="M185.9,606.9 C180.5,613.1 176.6,614.7 167.9,627.6 C159.2,640.5 162.6,634.8 156.8,649.8 C151.0,664.8 152.5,658.6 148.5,677.5 C144.5,696.4 145.0,702.1 143.5,712.7" fill="none" stroke="#fa1010" stroke-width="1.8" stroke-dasharray="5,3.5"/>
<path d="M47.4,682.5 C50.7,681.8 51.4,683.4 58.5,680.3 C65.5,677.1 63.0,677.0 70.9,672.0 C78.8,667.0 75.6,668.2 84.8,663.6 C94.0,659.0 91.9,659.4 101.4,656.7 C110.9,654.0 107.4,654.5 116.6,654.5 C125.8,654.5 122.3,653.6 131.9,656.7 C141.5,659.9 138.5,660.4 148.5,665.0 C158.5,669.6 155.9,667.4 165.1,672.0 C174.2,676.6 171.9,677.1 179.0,680.3 C186.1,683.4 185.8,681.8 188.7,682.5" fill="none" stroke="#8820ee" stroke-width="2.2"/>
<path d="M47.4,677.0 C50.7,676.7 51.4,677.9 58.5,676.0 C65.5,674.1 63.0,673.1 70.9,670.6 C78.8,668.1 78.1,669.2 84.8,667.8 C91.5,666.4 82.5,666.5 93.1,665.9 C103.7,665.3 104.2,665.7 120.0,665.7 C135.8,665.7 135.5,665.0 145.7,665.9 C155.9,666.8 148.2,666.8 154.0,668.6 C159.8,670.4 157.6,669.5 165.1,672.0 C172.6,674.5 171.9,675.2 179.0,677.0 C186.1,678.8 185.8,677.7 188.7,678.0" fill="none" stroke="#0a0af5" stroke-width="2.2"/>
<path d="M47.4,679.5 C50.7,679.0 51.4,680.4 58.5,678.0 C65.5,675.6 63.0,674.7 70.9,671.6 C78.8,668.5 80.6,668.9 84.8,667.8" fill="none" stroke="#0a0af5" stroke-width="2.2"/>
<path d="M165.1,672.0 C169.3,674.1 171.9,676.5 179.0,679.0 C186.1,681.5 185.8,680.0 188.7,680.5" fill="none" stroke="#0a0af5" stroke-width="2.2"/>
<path d="M221.6,604.0 C226.8,609.0 229.9,609.5 238.8,620.7 C247.7,632.0 245.4,627.0 251.2,641.5 C257.0,656.0 253.8,648.4 258.2,669.2 C262.6,690.0 263.6,698.2 265.9,710.7" fill="none" stroke="#fa1010" stroke-width="1.8" stroke-dasharray="5,3.5"/>
<path d="M362.0,607.7 C357.4,611.6 354.7,611.4 346.8,620.7 C338.9,630.0 341.1,626.6 335.7,638.7 C330.3,650.8 332.9,646.8 328.8,660.9 C324.7,675.0 325.0,670.3 321.9,685.8 C318.8,701.3 319.6,704.6 318.6,712.7" fill="none" stroke="#fa1010" stroke-width="1.8" stroke-dasharray="5,3.5"/>
<path d="M221.6,648.4 C225.9,649.9 226.7,650.1 236.0,653.4 C245.3,656.7 244.3,656.0 252.6,659.5 C260.9,663.0 256.2,662.8 263.7,665.0 C271.2,667.2 268.2,666.3 277.6,667.0 C287.0,667.7 285.0,667.2 295.0,667.2 C305.0,667.2 302.7,668.1 310.8,667.0 C318.9,665.9 315.2,666.3 321.9,663.6 C328.6,660.9 324.7,661.4 333.0,658.1 C341.3,654.8 340.9,655.3 349.6,652.6 C358.3,649.9 358.3,650.2 362.0,649.2" fill="none" stroke="#0a0af5" stroke-width="2.2"/>
<path d="M221.6,648.4 C225.9,650.1 226.7,651.1 236.0,654.0 C245.3,656.9 243.4,656.9 252.6,658.1 C261.8,659.3 256.5,658.9 266.5,658.1 C276.5,657.3 274.3,655.5 285.9,655.3 C297.5,655.1 294.5,656.2 305.3,657.3 C316.1,658.4 311.9,659.5 321.9,658.9 C331.9,658.3 326.5,658.4 338.5,655.3 C350.5,652.1 354.9,650.5 362.0,648.4" fill="none" stroke="#8820ee" stroke-width="2.2"/>
<text x="50.2" y="597.7" class="bi" font-size="18" fill="#fa1010">N<tspan class="b" font-style="normal" font-size="14.3" dy="4.5">S/D</tspan></text>
<text x="107" y="616" class="bi" font-size="18" fill="#8820ee">N<tspan class="b" font-style="normal" font-size="14.3" dy="4.5">Halo</tspan></text>
<text x="85.3" y="645.6" class="b" font-size="18" fill="#8820ee" textLength="68.7" lengthAdjust="spacingAndGlyphs">(HEHA)</text>
<text x="98.6" y="701" class="bi" font-size="18" fill="#0a0af5">N<tspan class="b" font-style="normal" font-size="14.3" dy="4.5">Halo</tspan></text>
<text x="147.7" y="701" class="b" font-size="18" fill="#0a0af5" textLength="62.5" lengthAdjust="spacingAndGlyphs">(HELA)</text>
<text x="224.4" y="599.4" class="bi" font-size="18" fill="#fa1010">N<tspan class="b" font-style="normal" font-size="14.3" dy="4.5">S/D</tspan></text>
<text x="284.5" y="606.9" class="bi" font-size="18" fill="#8820ee">N<tspan class="b" font-style="normal" font-size="14.3" dy="4.5">Halo</tspan></text>
<text x="261.5" y="636.5" class="b" font-size="18" fill="#8820ee" textLength="68" lengthAdjust="spacingAndGlyphs">(HEHA)</text>
<text x="333.8" y="677" class="bi" font-size="18" fill="#0a0af5">N<tspan class="b" font-style="normal" font-size="14.3" dy="4.5">Halo</tspan></text>
<text x="333" y="707.4" class="b" font-size="18" fill="#0a0af5" textLength="65.9" lengthAdjust="spacingAndGlyphs">(HELA)</text>
</g>
<!--PC_END-->
<!--PD_START-->
<g id="pd">
<clipPath id="cd"><rect x="407.6" y="380.5" width="216.3" height="327.7"/></clipPath>
<g clip-path="url(#cd)">
<path d="M407.3,498.8 C411.5,494.6 414.5,492.4 423.1,483.0 C431.7,473.6 426.4,476.9 439.7,463.6 C453.0,450.3 458.9,445.7 473.0,433.2 C487.1,420.7 480.6,425.5 492.4,416.6 C504.2,407.7 504.6,408.4 517.3,399.9 C530.0,391.4 532.2,389.9 540.0,384.7 C547.8,379.5 541.1,383.9 546.4,380.5 C551.7,377.1 556.4,374.3 560.0,372.0" fill="none" stroke="#8206fc" stroke-width="2" stroke-linejoin="round"/>
<path d="M439.7,510.7 C442.7,509.2 443.4,510.0 450.8,505.2 C458.2,500.4 456.3,500.1 467.4,492.7 C478.5,485.3 479.7,485.3 492.4,477.5 C505.1,469.7 502.3,471.0 515.0,463.6 C527.7,456.2 530.7,454.9 540.0,449.8 C549.3,444.7 536.0,451.1 549.7,444.5 C563.4,437.9 571.5,433.6 591.3,424.9 C611.1,416.2 615.3,415.3 624.0,411.8" fill="none" stroke="#0606f6" stroke-width="2" stroke-linejoin="round"/>
<path d="M465.2,518.5 C467.3,517.2 469.5,516.2 473.0,513.5 C476.5,510.8 475.8,510.1 478.5,508.5 C481.2,506.9 479.3,508.4 483.0,507.5 C486.7,506.6 483.9,508.0 492.4,505.2 C500.9,502.4 507.1,499.6 515.0,496.9 C522.9,494.2 512.7,499.3 522.0,495.2 C531.3,491.1 534.2,487.8 549.7,481.6 C565.2,475.4 566.2,476.2 580.2,472.0 C594.2,467.8 590.6,469.6 602.3,465.9 C614.0,462.2 618.2,460.2 624.0,458.1" fill="none" stroke="#06a4fc" stroke-width="2" stroke-linejoin="round"/>
<path d="M407.9,695.6 C412.0,690.4 414.6,685.9 423.1,676.1 C431.6,666.3 431.3,666.5 439.7,658.9 C448.1,651.3 445.9,653.6 454.6,647.5 C463.3,641.4 460.2,643.7 472.4,636.0 C484.6,628.3 486.9,627.2 500.5,618.8 C514.1,610.4 510.4,612.5 523.4,604.5 C536.4,596.5 534.3,597.3 549.2,588.7 C564.1,580.1 564.4,578.9 579.3,572.4 C594.2,565.9 593.3,568.2 605.1,564.4 C616.9,560.6 618.7,559.8 623.7,558.1" fill="none" stroke="#8206fc" stroke-width="2" stroke-linejoin="round"/>
<path d="M465.5,648.9 C466.7,648.5 467.5,648.6 470.0,647.5 C472.5,646.4 471.2,646.9 474.7,644.6 C478.2,642.3 476.4,642.7 483.3,638.9 C490.2,635.1 491.9,634.1 500.5,630.3 C509.1,626.5 508.1,628.9 515.4,624.6 C522.7,620.3 519.0,619.7 528.0,614.0 C537.0,608.3 535.5,609.1 549.2,603.1 C562.9,597.1 565.2,596.2 579.3,591.6 C593.4,587.0 590.4,589.2 602.2,585.9 C614.0,582.6 618.0,581.1 623.7,579.3" fill="none" stroke="#06a4fc" stroke-width="2" stroke-linejoin="round"/>
<path d="M439.7,677.6 C442.2,676.8 441.1,678.9 448.9,674.7 C456.7,670.5 456.7,669.1 468.9,661.8 C481.1,654.5 482.3,653.2 494.7,647.5 C507.1,641.8 508.1,642.8 515.4,640.3 C522.7,637.8 513.0,642.9 522.0,638.3 C531.0,633.7 533.9,632.0 549.2,623.1 C564.5,614.2 564.4,613.5 579.3,605.1 C594.2,596.7 593.3,597.1 605.1,591.6 C616.9,586.1 618.7,586.3 623.7,584.4" fill="none" stroke="#0606f6" stroke-width="2" stroke-linejoin="round"/>
</g>
<circle cx="439.7" cy="457.3" r="5.2" fill="#8206fc"/><circle cx="472.4" cy="447.9" r="5.2" fill="#8206fc"/><circle cx="439.7" cy="658.9" r="5.2" fill="#8206fc"/><circle cx="472.4" cy="629.7" r="5.2" fill="#8206fc"/>
<circle cx="515" cy="503.3" r="5.2" fill="#06a4fc"/><circle cx="549.7" cy="479.7" r="5.2" fill="#06a4fc"/><circle cx="580.2" cy="474.2" r="5.2" fill="#06a4fc"/><circle cx="602.3" cy="468.6" r="5.2" fill="#06a4fc"/><circle cx="515.4" cy="624.6" r="5.2" fill="#06a4fc"/><circle cx="549.8" cy="606.8" r="5.2" fill="#06a4fc"/><circle cx="580.2" cy="588.7" r="5.2" fill="#06a4fc"/><circle cx="602.2" cy="582.4" r="5.2" fill="#06a4fc"/>
<circle cx="515" cy="463.6" r="5.2" fill="#0606f6"/><circle cx="515.4" cy="640.3" r="5.2" fill="#0606f6"/>
<rect x="407.6" y="380.5" width="216.3" height="327.7" fill="none" stroke="#000" stroke-width="1.8"/>
<line x1="407.6" y1="392.2" x2="414.6" y2="392.2" stroke="#000" stroke-width="1.8"/>
<text x="380" y="397.9" font-size="19.2" textLength="25.4" lengthAdjust="spacingAndGlyphs">1.0</text>
<line x1="407.6" y1="462.5" x2="414.6" y2="462.5" stroke="#000" stroke-width="1.8"/>
<text x="380" y="468.2" font-size="19.2" textLength="25.4" lengthAdjust="spacingAndGlyphs">0.7</text>
<line x1="407.6" y1="532.2" x2="414.6" y2="532.2" stroke="#000" stroke-width="1.8"/>
<text x="380" y="537.9" font-size="19.2" textLength="25.4" lengthAdjust="spacingAndGlyphs">0.4</text>
<line x1="493.9" y1="708.2" x2="493.9" y2="702" stroke="#000" stroke-width="1.8"/>
<line x1="601.7" y1="708.2" x2="601.7" y2="702" stroke="#000" stroke-width="1.8"/>
<text x="477" y="732" font-size="24" textLength="33" lengthAdjust="spacingAndGlyphs">LD</text>
<text x="581.2" y="732" font-size="24" textLength="37.6" lengthAdjust="spacingAndGlyphs">HD</text>
<line x1="623.7" y1="580.1" x2="616.7" y2="580.1" stroke="#000" stroke-width="2"/><line x1="623.7" y1="564.9" x2="619.2" y2="564.9" stroke="#000" stroke-width="1.8"/><line x1="623.7" y1="556.0" x2="619.2" y2="556.0" stroke="#000" stroke-width="1.8"/><line x1="623.7" y1="549.7" x2="619.2" y2="549.7" stroke="#000" stroke-width="1.8"/><line x1="623.7" y1="544.8" x2="619.2" y2="544.8" stroke="#000" stroke-width="1.8"/><line x1="623.7" y1="630.6" x2="616.7" y2="630.6" stroke="#000" stroke-width="2"/><line x1="623.7" y1="615.4" x2="619.2" y2="615.4" stroke="#000" stroke-width="1.8"/><line x1="623.7" y1="606.5" x2="619.2" y2="606.5" stroke="#000" stroke-width="1.8"/><line x1="623.7" y1="600.2" x2="619.2" y2="600.2" stroke="#000" stroke-width="1.8"/><line x1="623.7" y1="595.3" x2="619.2" y2="595.3" stroke="#000" stroke-width="1.8"/><line x1="623.7" y1="591.3" x2="619.2" y2="591.3" stroke="#000" stroke-width="1.8"/><line x1="623.7" y1="587.9" x2="619.2" y2="587.9" stroke="#000" stroke-width="1.8"/><line x1="623.7" y1="585.0" x2="619.2" y2="585.0" stroke="#000" stroke-width="1.8"/><line x1="623.7" y1="582.4" x2="619.2" y2="582.4" stroke="#000" stroke-width="1.8"/><line x1="623.7" y1="681.1" x2="616.7" y2="681.1" stroke="#000" stroke-width="2"/><line x1="623.7" y1="665.9" x2="619.2" y2="665.9" stroke="#000" stroke-width="1.8"/><line x1="623.7" y1="657.0" x2="619.2" y2="657.0" stroke="#000" stroke-width="1.8"/><line x1="623.7" y1="650.7" x2="619.2" y2="650.7" stroke="#000" stroke-width="1.8"/><line x1="623.7" y1="645.8" x2="619.2" y2="645.8" stroke="#000" stroke-width="1.8"/><line x1="623.7" y1="641.8" x2="619.2" y2="641.8" stroke="#000" stroke-width="1.8"/><line x1="623.7" y1="638.4" x2="619.2" y2="638.4" stroke="#000" stroke-width="1.8"/><line x1="623.7" y1="635.5" x2="619.2" y2="635.5" stroke="#000" stroke-width="1.8"/><line x1="623.7" y1="632.9" x2="619.2" y2="632.9" stroke="#000" stroke-width="1.8"/><line x1="623.7" y1="707.5" x2="619.2" y2="707.5" stroke="#000" stroke-width="1.8"/><line x1="623.7" y1="701.2" x2="619.2" y2="701.2" stroke="#000" stroke-width="1.8"/><line x1="623.7" y1="696.3" x2="619.2" y2="696.3" stroke="#000" stroke-width="1.8"/><line x1="623.7" y1="692.3" x2="619.2" y2="692.3" stroke="#000" stroke-width="1.8"/><line x1="623.7" y1="688.9" x2="619.2" y2="688.9" stroke="#000" stroke-width="1.8"/><line x1="623.7" y1="686.0" x2="619.2" y2="686.0" stroke="#000" stroke-width="1.8"/><line x1="623.7" y1="683.4" x2="619.2" y2="683.4" stroke="#000" stroke-width="1.8"/>
<text x="626.4" y="585.9" font-size="17">10<tspan font-size="12.5" dy="-6.5">-10</tspan></text>
<text x="626.4" y="636.4" font-size="17">10<tspan font-size="12.5" dy="-6.5">-11</tspan></text>
<text x="626.4" y="686.9" font-size="17">10<tspan font-size="12.5" dy="-6.5">-12</tspan></text>
<text x="420.8" y="409.9" font-size="24.5">(d)</text>
<text x="581.6" y="681" font-size="23">Tp</text>
<text transform="translate(370.6,488.8) rotate(-90)" font-size="24" textLength="79.5" lengthAdjust="spacingAndGlyphs">|V<tspan font-size="16" dy="6">T</tspan><tspan dy="-6">| (V)</tspan></text>
<text transform="translate(675.8,567.2) rotate(90)" font-size="24" textLength="104.6" lengthAdjust="spacingAndGlyphs">|<tspan font-style="italic">I</tspan><tspan font-size="16" dy="6">BTBT</tspan><tspan dy="-6">| (A)</tspan></text>
<text x="413.8" y="552.3" class="b" font-size="16" textLength="134.3" lengthAdjust="spacingAndGlyphs">(Symbol): Meas.</text>
<text x="413.8" y="575.3" class="b" font-size="16" textLength="107.2" lengthAdjust="spacingAndGlyphs">(Line): TCAD</text>
</g>
<!--PD_END-->
</svg>
</body></html>
